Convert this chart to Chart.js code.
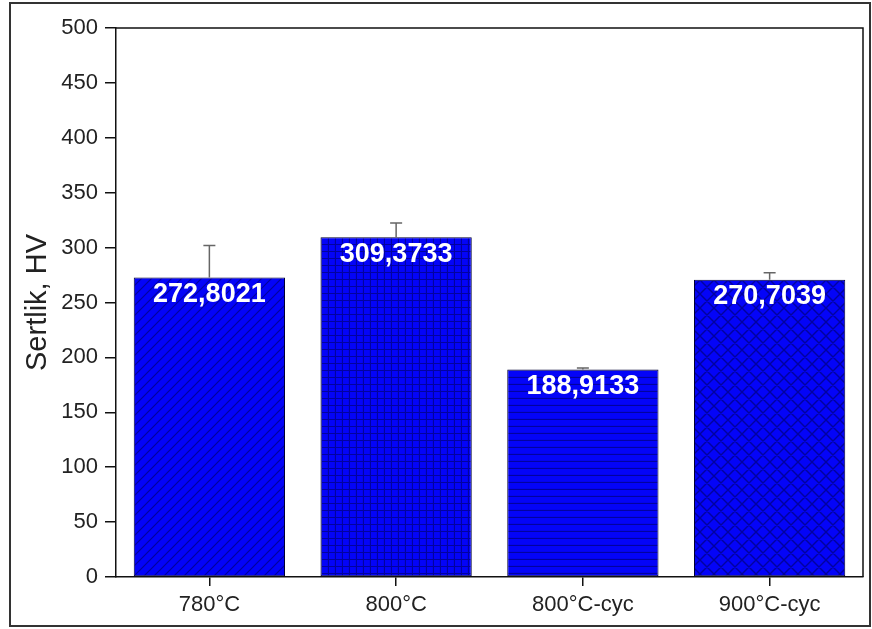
<!DOCTYPE html>
<html>
<head>
<meta charset="utf-8">
<script src="https://cdn.jsdelivr.net/npm/chart.js@4/dist/chart.umd.min.js"></script>
<style>
  html, body { margin: 0; padding: 0; background: #fff; }
  #wrap { width: 872px; height: 629px; position: relative; }
</style>
</head>
<body>
<div id="wrap"><canvas id="c" width="872" height="629"></canvas></div>
<script>
// Hardness by heat treatment
const categories = ['780°C', '800°C', '800°C-cyc', '900°C-cyc'];
const hardness = [272.8021, 309.3733, 188.9133, 270.7039];
const errors = [29, 13, 1.5, 6.5];
const yTicks = [0, 50, 100, 150, 200, 250, 300, 350, 400, 450, 500];
const patternKinds = ['diag', 'grid', 'horiz', 'cross'];

const BLUE = '#0404f8';
const LINE = 'rgba(0,0,70,0.5)';

function makePattern(kind) {
  const size = kind === 'cross' ? 14 : (kind === 'diag' ? 10 : 7);
  const cv = document.createElement('canvas');
  cv.width = size; cv.height = size;
  const g = cv.getContext('2d');
  g.fillStyle = BLUE;
  g.fillRect(0, 0, size, size);
  g.strokeStyle = LINE;
  g.lineWidth = kind === 'cross' ? 1.4 : 1.2;
  g.beginPath();
  if (kind === 'diag' || kind === 'cross') {
    g.moveTo(-1, size + 1); g.lineTo(size + 1, -1);
    g.moveTo(-2, 2); g.lineTo(2, -2);
    g.moveTo(size - 2, size + 2); g.lineTo(size + 2, size - 2);
  }
  if (kind === 'cross') {
    g.moveTo(-1, -1); g.lineTo(size + 1, size + 1);
    g.moveTo(size - 2, -2); g.lineTo(size + 2, 2);
    g.moveTo(-2, size - 2); g.lineTo(2, size + 2);
  }
  if (kind === 'grid' || kind === 'horiz') {
    g.moveTo(0, size - 0.5); g.lineTo(size, size - 0.5);
  }
  if (kind === 'grid') {
    g.moveTo(size - 0.5, 0); g.lineTo(size - 0.5, size);
  }
  g.stroke();
  return g.createPattern(cv, 'repeat');
}

const fills = patternKinds.map(makePattern);

// outer frame, y-axis title and plot-area top/right border
const framePlugin = {
  id: 'frame',
  beforeDraw(chart) {
    const ctx = chart.ctx;
    ctx.save();
    ctx.fillStyle = '#fff';
    ctx.fillRect(0, 0, chart.width, chart.height);
    ctx.strokeStyle = '#333';
    ctx.lineWidth = 2;
    ctx.strokeRect(10, 3, 860, 623);
    ctx.restore();
  },
  afterDraw(chart) {
    const { left, right, top, bottom } = chart.chartArea;
    const ctx = chart.ctx;
    ctx.save();
    ctx.strokeStyle = '#111';
    ctx.lineWidth = 1.5;
    ctx.beginPath();
    ctx.moveTo(left, top);
    ctx.lineTo(right, top);
    ctx.lineTo(right, bottom);
    ctx.stroke();
    ctx.translate(38, (top + bottom) / 2);
    ctx.rotate(-Math.PI / 2);
    ctx.fillStyle = '#222';
    ctx.font = '29px "Liberation Sans", Arial, sans-serif';
    ctx.textAlign = 'center';
    ctx.textBaseline = 'middle';
    ctx.fillText('Sertlik, HV', 0, 0);
    ctx.restore();
  }
};

// error whiskers and value labels
const annotatePlugin = {
  id: 'annotate',
  afterDatasetsDraw(chart) {
    const ctx = chart.ctx;
    const meta = chart.getDatasetMeta(0);
    const y = chart.scales.y;
    ctx.save();
    meta.data.forEach((bar, i) => {
      const v = hardness[i];
      const yTop = y.getPixelForValue(v + errors[i]);
      ctx.strokeStyle = '#666';
      ctx.lineWidth = 1.5;
      ctx.beginPath();
      ctx.moveTo(bar.x, bar.y);
      ctx.lineTo(bar.x, yTop);
      ctx.moveTo(bar.x - 6, yTop);
      ctx.lineTo(bar.x + 6, yTop);
      ctx.stroke();
    });
    ctx.fillStyle = '#fff';
    ctx.font = 'bold 27px "Liberation Sans", Arial, sans-serif';
    ctx.textAlign = 'center';
    ctx.textBaseline = 'middle';
    meta.data.forEach((bar, i) => {
      ctx.fillText(hardness[i].toFixed(4).replace('.', ','), bar.x, bar.y + 17);
    });
    ctx.restore();
  }
};

const font = { family: '"Liberation Sans", Arial, sans-serif', size: 22 };

new Chart(document.getElementById('c'), {
  type: 'bar',
  data: {
    labels: categories,
    datasets: [{
      data: hardness,
      backgroundColor: fills,
      borderColor: '#000033',
      borderWidth: 1,
      borderSkipped: false,
      barPercentage: 0.81,
      categoryPercentage: 1.0
    }]
  },
  options: {
    responsive: false,
    animation: false,
    layout: { padding: { left: 22, right: 9, top: 28, bottom: 8 } },
    plugins: { legend: { display: false }, tooltip: { enabled: false } },
    scales: {
      x: {
        offset: true,
        grid: { display: true, drawOnChartArea: false, drawTicks: true, tickLength: 9, color: '#111', lineWidth: 1.5, offset: false },
        border: { display: true, color: '#111', width: 1.5 },
        ticks: { color: '#222', font: font, padding: 6, maxRotation: 0 },
        afterFit(s) { s.height = 44; }
      },
      y: {
        min: 0, max: 500,
        afterBuildTicks(s) { s.ticks = yTicks.map(v => ({ value: v })); },
        grid: { display: true, drawOnChartArea: false, drawTicks: true, tickLength: 11, color: '#111', lineWidth: 1.5 },
        border: { display: true, color: '#111', width: 1.5 },
        ticks: { color: '#222', font: font, padding: 7 },
        title: { display: false },
        afterFit(s) { s.width = 94; }
      }
    }
  },
  plugins: [framePlugin, annotatePlugin]
});
</script>
</body>
</html>
